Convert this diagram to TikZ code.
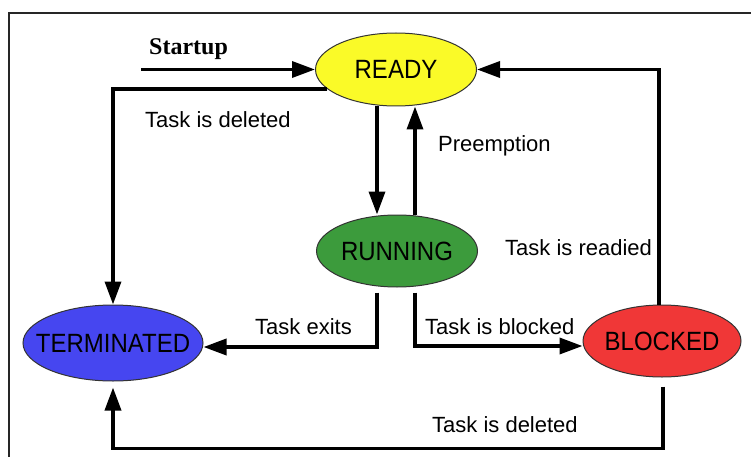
\documentclass[tikz,border=0pt]{standalone}
\usepackage{fontspec}
\usetikzlibrary{shapes.geometric,arrows.meta}
\newfontfamily\lsans{Liberation Sans}
\newfontfamily\lserif{Liberation Serif}
\definecolor{cready}{RGB}{250,250,40}
\definecolor{crun}{RGB}{60,155,60}
\definecolor{cterm}{RGB}{70,70,240}
\definecolor{cblock}{RGB}{240,55,55}
\newcommand{\stxt}[1]{\makebox[0pt]{\scalebox{1}[1.1]{#1}}}
\begin{document}
\begin{tikzpicture}[x=1pt,y=-1pt,
  state/.style={ellipse, draw=black!80, line width=1pt, inner sep=0pt,
    font=\lsans\fontsize{24}{28}\selectfont},
  lbl/.style={anchor=base west, inner sep=0pt, font=\lsans\fontsize{22}{25}\selectfont},
  arr/.style={line width=3.5pt, -{Triangle[length=23pt,width=16pt]}}]
\useasboundingbox (0,0) rectangle (751,457);
\draw[line width=1.5pt, black!85] (751,13) -- (9,13) -- (9,457);

\node[state, fill=cready, minimum width=161pt, minimum height=73pt] (ready) at (396,69.5) {\stxt{READY}};
\node[state, fill=crun, minimum width=161pt, minimum height=72pt] (running) at (397,251) {\stxt{RUNNING}};
\node[state, fill=cterm, minimum width=180pt, minimum height=76pt] (term) at (113,343) {\stxt{TERMINATED}};
\node[state, fill=cblock, minimum width=158pt, minimum height=72pt] (blocked) at (662,341) {\stxt{BLOCKED}};

\coordinate (start) at (141,69.5);
\draw[arr] (start) -- (ready.west);
\draw[arr] (ready.196) -| (term.north);
\draw[arr] ([xshift=-19pt]ready.south) -- ([xshift=-20pt]running.north);
\draw[arr] ([xshift=18pt]running.north) -- ([xshift=19pt]ready.south);
\draw[arr, shorten <=5pt] ([xshift=-20pt]running.south) |- ([yshift=-4pt]term.east);
\draw[arr, shorten <=5pt] ([xshift=18pt]running.south) |- ([yshift=-5pt]blocked.west);
\draw[arr] ([xshift=-3pt]blocked.north) |- (ready.east);
\draw[arr, shorten <=9pt, shorten >=6pt] ([xshift=1pt]blocked.south) -- ++(0,71) -| (term.south);

\node[anchor=base west, inner sep=0pt, font=\lserif\bfseries\fontsize{24}{28}\selectfont] (lstart) at (149,55) {Startup};
\node[lbl] (l1) at (145,128) {Task is deleted};
\node[lbl] (l2) at (438,152) {Preemption};
\node[lbl] (l3) at (505,255) {Task is readied};
\node[lbl] (l4) at (255,334) {Task exits};
\node[lbl] (l5) at (425,334) {Task is blocked};
\node[lbl] (l6) at (432,432) {Task is deleted};
\end{tikzpicture}
\end{document}
